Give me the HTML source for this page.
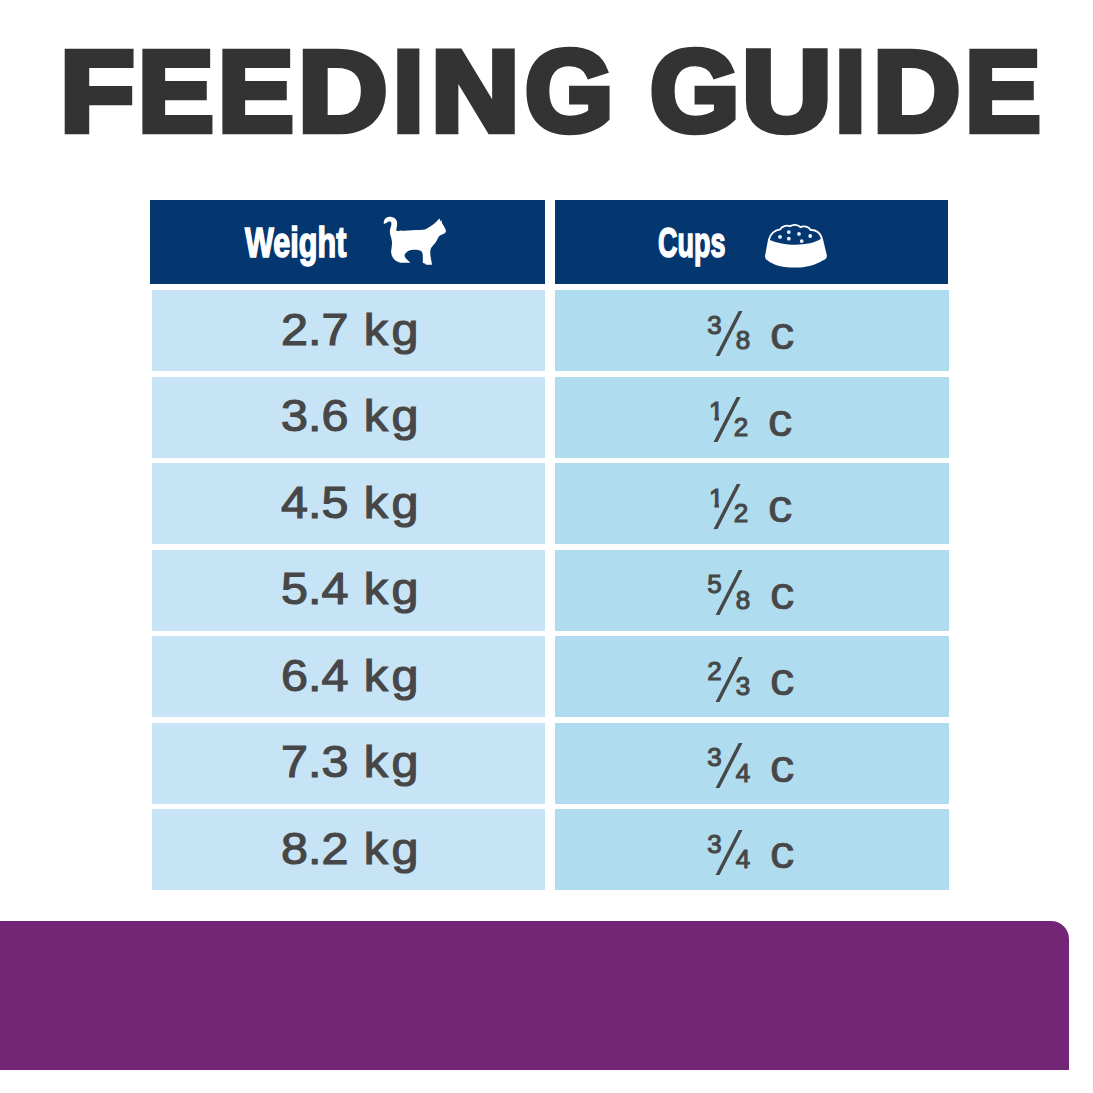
<!DOCTYPE html>
<html lang="en"><head><meta charset="utf-8"><title>Feeding Guide</title>
<style>
html,body{margin:0;padding:0;background:#fff;}
body{width:1093px;height:1093px;position:relative;overflow:hidden;font-family:"Liberation Sans",Arial,sans-serif;}
h1{margin:0;position:absolute;left:0;top:0;width:1093px;height:160px;font-size:115px;font-weight:700;color:#333333;-webkit-text-stroke:6.5px #333333;line-height:115px;}
.tl{position:absolute;top:34px;transform-origin:0 0;white-space:pre;}
.tsp{position:absolute;left:620px;top:33px;}
.hd{position:absolute;top:200px;height:84px;background:#04366f;color:#fff;}
.hd.l{left:150px;width:395px;}
.hd.r{left:555px;width:393px;}
.hd .t{position:absolute;font-weight:700;font-size:42px;line-height:42px;transform-origin:0 0;white-space:pre;-webkit-text-stroke:1.6px #fff;}
.cell{position:absolute;height:81px;}
.cell.l{left:152px;width:393px;background:#c6e4f5;}
.cell.r{left:555px;width:394px;background:#b0dcf0;}
.wt{position:absolute;left:128.8px;top:17.5px;transform:scaleX(1.09);transform-origin:0 0;font-size:44.5px;line-height:44.5px;color:#474747;-webkit-text-stroke:1.15px #474747;white-space:pre;word-spacing:1.8px;}
.kk{letter-spacing:3px;}
.fr{position:absolute;left:0;top:0;}
.num,.den{position:absolute;font-size:26px;line-height:26px;color:#474747;-webkit-text-stroke:1.1px #474747;}
.num{left:152.3px;top:21.5px;}
.num.one{left:156px;clip-path:polygon(0 0,100% 0,100% 19px,10px 19px,10px 100%,5.5px 100%,5.5px 19px,0 19px);}
.den{left:180.7px;top:37.3px;}
.sl{position:absolute;left:170.6px;top:11.8px;font-size:64px;line-height:64px;color:#474747;transform:scaleX(0.84);transform-origin:2.9px 50%;}
.cu{position:absolute;left:214.7px;top:21.3px;font-size:45.5px;line-height:45.5px;color:#474747;transform:scaleX(1.07);transform-origin:0 0;-webkit-text-stroke:0.7px #474747;}
.purple{position:absolute;left:0;top:921px;width:1069px;height:149px;background:#732675;border-top-right-radius:18px;}
.cat{position:absolute;left:378px;top:212px;}
.bowl{position:absolute;left:760px;top:218px;}
</style></head><body>
<h1><span class="tl" style="left:59.75px;transform:scaleX(1.0615)">F</span><span class="tl" style="left:138.06px;transform:scaleX(0.9859)">E</span><span class="tl" style="left:218.06px;transform:scaleX(0.9859)">E</span><span class="tl" style="left:297.69px;transform:scaleX(1.0779)">D</span><span class="tl" style="left:393.17px;transform:scaleX(0.9583)">I</span><span class="tl" style="left:430.73px;transform:scaleX(1.0667)">N</span><span class="tl" style="left:525.01px;transform:scaleX(0.9882)">G</span><span class="tsp"> </span><span class="tl" style="left:650.00px;transform:scaleX(1.0000)">G</span><span class="tl" style="left:741.68px;transform:scaleX(1.0800)">U</span><span class="tl" style="left:835.17px;transform:scaleX(0.9583)">I</span><span class="tl" style="left:872.79px;transform:scaleX(1.0519)">D</span><span class="tl" style="left:965.06px;transform:scaleX(0.9859)">E</span></h1>
<div class="hd l"><span class="t" style="left:94.7px;top:22px;transform:scaleX(0.728)">Weight</span>
<svg class="cat" style="left:228px;top:12px" viewBox="0 0 74 58" width="74" height="58"><path fill="#fff" d="M5.60,10.90 C5.65,10.08 6.13,7.87 6.90,6.90 C7.67,5.93 9.10,5.42 10.20,5.10 C11.30,4.78 12.40,4.80 13.50,5.00 C14.60,5.20 15.92,5.60 16.80,6.30 C17.68,7.00 18.42,8.10 18.80,9.20 C19.18,10.30 19.15,11.73 19.10,12.90 C19.05,14.07 18.62,15.28 18.50,16.20 C18.38,17.12 18.08,17.93 18.40,18.40 C18.72,18.87 20.40,19.00 20.40,19.00 C20.40,19.00 27.07,18.78 30.00,18.60 C32.93,18.42 35.40,18.05 38.00,17.90 C40.60,17.75 43.78,17.93 45.60,17.70 C47.42,17.47 47.80,17.03 48.90,16.50 C50.00,15.97 51.05,15.27 52.20,14.50 C53.35,13.73 54.65,12.83 55.80,11.90 C56.95,10.97 58.17,9.78 59.10,8.90 C60.03,8.02 61.40,6.60 61.40,6.60 C61.40,6.60 62.50,9.30 62.50,9.30 C62.50,9.30 63.60,7.90 63.60,7.90 C63.60,7.90 63.60,9.85 64.00,10.90 C64.40,11.95 65.50,13.27 66.00,14.20 C66.50,15.13 66.67,15.73 67.00,16.50 C67.33,17.27 68.00,18.03 68.00,18.80 C68.00,19.57 67.60,20.50 67.00,21.10 C66.40,21.70 65.28,21.97 64.40,22.40 C63.52,22.83 62.42,23.15 61.70,23.70 C60.98,24.25 60.53,24.98 60.10,25.70 C59.67,26.42 59.60,27.12 59.10,28.00 C58.60,28.88 57.75,30.13 57.10,31.00 C56.45,31.87 55.82,32.43 55.20,33.20 C54.58,33.97 53.87,34.72 53.40,35.60 C52.93,36.48 52.57,37.27 52.40,38.50 C52.23,39.73 52.25,41.32 52.40,43.00 C52.55,44.68 53.03,46.97 53.30,48.60 C53.57,50.23 54.00,52.80 54.00,52.80 C54.00,52.80 47.80,52.70 47.80,52.70 C47.80,52.70 47.80,52.00 47.30,51.70 C46.80,51.40 44.80,50.90 44.80,50.90 C44.80,50.90 44.83,47.88 44.80,46.40 C44.77,44.92 44.92,43.23 44.60,42.00 C44.28,40.77 43.92,39.72 42.90,39.00 C41.88,38.28 40.10,37.85 38.50,37.70 C36.90,37.55 34.90,37.73 33.30,38.10 C31.70,38.47 29.98,39.17 28.90,39.90 C27.82,40.63 27.13,41.68 26.80,42.50 C26.47,43.32 26.50,43.92 26.90,44.80 C27.30,45.68 28.30,46.82 29.20,47.80 C30.10,48.78 32.30,50.70 32.30,50.70 C32.30,50.70 22.00,50.70 22.00,50.70 C22.00,50.70 18.77,49.60 17.50,48.60 C16.23,47.60 15.13,46.08 14.40,44.70 C13.67,43.32 13.23,41.75 13.10,40.30 C12.97,38.85 13.45,37.72 13.60,36.00 C13.75,34.28 14.08,31.75 14.00,30.00 C13.92,28.25 13.43,26.93 13.10,25.50 C12.77,24.07 12.18,22.73 12.00,21.40 C11.82,20.07 11.83,18.65 12.00,17.50 C12.17,16.35 12.77,15.55 13.00,14.50 C13.23,13.45 13.53,12.02 13.40,11.20 C13.27,10.38 12.78,9.82 12.20,9.60 C11.62,9.38 10.83,9.53 9.90,9.90 C8.97,10.27 7.32,11.63 6.60,11.80 C5.88,11.97 5.55,11.72 5.60,10.90 Z"/></svg></div>
<div class="hd r"><span class="t" style="left:103.1px;top:21.5px;transform:scaleX(0.642)">Cups</span></div>
<svg class="bowl" viewBox="0 0 74 54" width="74" height="54">
<path fill="#fff" d="M8.30,20.50 C8.30,20.50 6.52,29.83 6.00,33.00 C5.48,36.17 4.70,37.75 5.20,39.50 C5.70,41.25 7.20,42.25 9.00,43.50 C10.80,44.75 13.33,46.08 16.00,47.00 C18.67,47.92 22.00,48.57 25.00,49.00 C28.00,49.43 31.00,49.57 34.00,49.60 C37.00,49.63 39.83,49.63 43.00,49.20 C46.17,48.77 50.00,47.95 53.00,47.00 C56.00,46.05 58.73,44.75 61.00,43.50 C63.27,42.25 65.80,41.25 66.60,39.50 C67.40,37.75 66.43,36.17 65.80,33.00 C65.17,29.83 62.80,20.50 62.80,20.50 C62.80,20.50 8.30,20.50 8.30,20.50 Z"/>
<path fill="#04366f" stroke="#fff" stroke-width="3.6" stroke-linejoin="round" paint-order="stroke" d="M9.8,22 A11.8,11.8 0 0 1 20.6,12.3 A7.1,7.1 0 0 1 30,9.3 A7.8,7.8 0 0 1 40.4,10.2 A7.4,7.4 0 0 1 50.3,13 A9.4,9.4 0 0 1 60.9,20.8 C50,28.5 24,28.5 9.8,22 Z"/>
<g fill="#e4f6fd"><circle cx="20" cy="18.9" r="1.9"/><circle cx="28.8" cy="14.1" r="1.9"/><circle cx="28.8" cy="20.7" r="1.9"/><circle cx="39" cy="15.9" r="1.9"/><circle cx="41.7" cy="23.1" r="1.9"/><circle cx="50.2" cy="18" r="1.9"/></g>
</svg>
<div class="cell l" style="top:290.0px"><span class="wt">2.7 <span class="kk">k</span>g</span></div><div class="cell r" style="top:290.0px"><span class="fr" style="left:0px"><span class="num">3</span><span class="sl">&#8260;</span><span class="den">8</span></span><span class="cu">c</span></div><div class="cell l" style="top:376.5px"><span class="wt">3.6 <span class="kk">k</span>g</span></div><div class="cell r" style="top:376.5px"><span class="fr" style="left:-2px"><span class="num one">1</span><span class="sl">&#8260;</span><span class="den">2</span></span><span class="cu" style="left:212.7px">c</span></div><div class="cell l" style="top:463.0px"><span class="wt">4.5 <span class="kk">k</span>g</span></div><div class="cell r" style="top:463.0px"><span class="fr" style="left:-2px"><span class="num one">1</span><span class="sl">&#8260;</span><span class="den">2</span></span><span class="cu" style="left:212.7px">c</span></div><div class="cell l" style="top:549.5px"><span class="wt">5.4 <span class="kk">k</span>g</span></div><div class="cell r" style="top:549.5px"><span class="fr" style="left:0px"><span class="num">5</span><span class="sl">&#8260;</span><span class="den">8</span></span><span class="cu">c</span></div><div class="cell l" style="top:636.0px"><span class="wt">6.4 <span class="kk">k</span>g</span></div><div class="cell r" style="top:636.0px"><span class="fr" style="left:0px"><span class="num">2</span><span class="sl">&#8260;</span><span class="den">3</span></span><span class="cu">c</span></div><div class="cell l" style="top:722.5px"><span class="wt">7.3 <span class="kk">k</span>g</span></div><div class="cell r" style="top:722.5px"><span class="fr" style="left:0px"><span class="num">3</span><span class="sl">&#8260;</span><span class="den">4</span></span><span class="cu">c</span></div><div class="cell l" style="top:809.0px"><span class="wt">8.2 <span class="kk">k</span>g</span></div><div class="cell r" style="top:809.0px"><span class="fr" style="left:0px"><span class="num">3</span><span class="sl">&#8260;</span><span class="den">4</span></span><span class="cu">c</span></div>
<div class="purple"></div>
</body></html>
